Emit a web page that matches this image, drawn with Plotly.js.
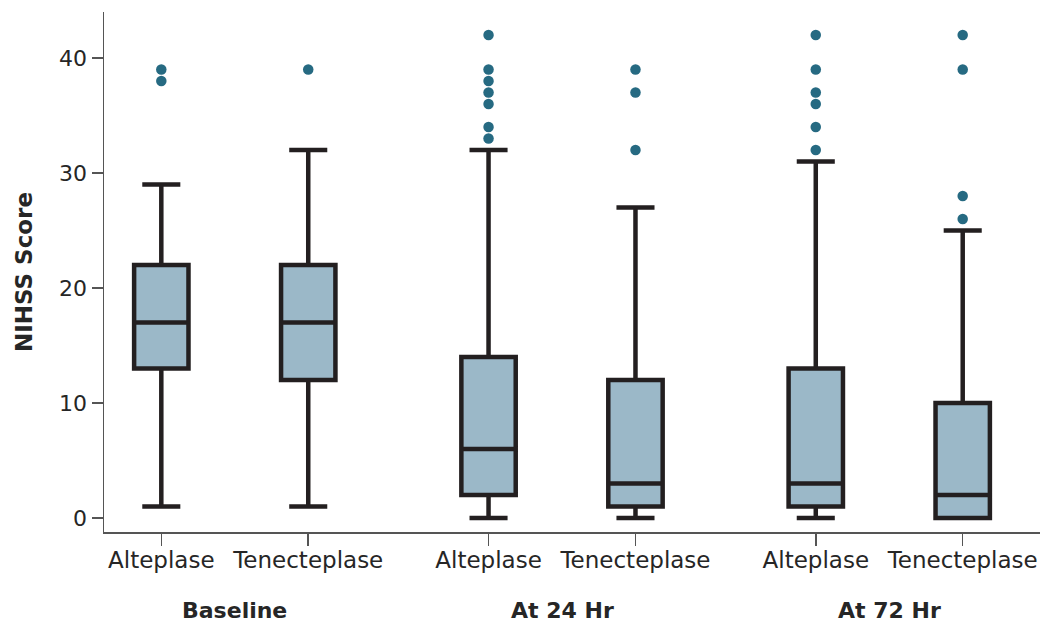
<!DOCTYPE html>
<html>
<head>
<meta charset="utf-8">
<script src="https://cdn.plot.ly/plotly-3.0.1.min.js"></script>
<style>html,body{margin:0;padding:0;background:#fff;}#chart{width:1045px;height:626px;}</style>
</head>
<body>
<div id="chart"></div>
<script>
// ---- data ----
var groups = ["Baseline", "At 24 Hr", "At 72 Hr"];
var drugs = ["Alteplase", "Tenecteplase"];
var boxGroup = [0, 0, 1, 1, 2, 2];
var boxDrug = [0, 1, 0, 1, 0, 1];
var lowerFence = [1, 1, 0, 0, 0, 0];
var q1 = [13, 12, 2, 1, 1, 0];
var median = [17, 17, 6, 3, 3, 2];
var q3 = [22, 22, 14, 12, 13, 10];
var upperFence = [29, 32, 32, 27, 31, 25];
var outliers = [
  [38, 39],
  [39],
  [33, 34, 36, 37, 38, 39, 42],
  [32, 37, 39],
  [32, 34, 36, 37, 39, 42],
  [26, 28, 39, 42]
];
var yTicks = [0, 10, 20, 30, 40];

// ---- layout helpers ----
var groupStep = 2.227;
var pos = boxGroup.map(function (g, i) { return g * groupStep + boxDrug[i]; });
var tickText = boxDrug.map(function (d) { return drugs[d]; });

var ox = [], oy = [];
outliers.forEach(function (arr, i) {
  arr.forEach(function (v) { ox.push(pos[i]); oy.push(v); });
});

var lineCol = "#231f20";
var textCol = "#262626";
var fontFam = "'DejaVu Sans', sans-serif";

var traces = [
  {
    type: "box",
    x: pos,
    q1: q1,
    median: median,
    q3: q3,
    lowerfence: lowerFence,
    upperfence: upperFence,
    width: 0.37,
    whiskerwidth: 0.7,
    boxpoints: false,
    fillcolor: "#9bb8c8",
    line: { color: lineCol, width: 4.5 },
    hoverinfo: "skip",
    showlegend: false
  },
  {
    type: "scatter",
    mode: "markers",
    x: ox,
    y: oy,
    marker: { color: "#266a82", size: 10.5 },
    hoverinfo: "skip",
    showlegend: false
  }
];

var annotations = groups.map(function (g, gi) {
  return {
    text: "<b>" + g + "</b>",
    x: gi * groupStep + 0.5,
    xref: "x",
    y: -0.15,
    yref: "paper",
    yanchor: "middle",
    xanchor: "center",
    showarrow: false,
    font: { family: fontFam, size: 22, color: textCol }
  };
});

var layout = {
  width: 1045,
  height: 626,
  margin: { l: 104, r: 5, t: 12, b: 94 },
  paper_bgcolor: "#ffffff",
  plot_bgcolor: "#ffffff",
  showlegend: false,
  xaxis: {
    type: "linear",
    range: [-0.39, 5.98],
    tickmode: "array",
    tickvals: pos,
    ticktext: tickText,
    tickangle: 0,
    ticks: "outside",
    ticklen: 12,
    tickwidth: 1.5,
    tickcolor: "#555",
    ticklabelstandoff: -5,
    showline: true,
    linecolor: "#555",
    linewidth: 1.5,
    showgrid: false,
    zeroline: false,
    fixedrange: true,
    tickfont: { family: fontFam, size: 23, color: textCol }
  },
  yaxis: {
    range: [-1.22, 44],
    tickmode: "array",
    tickvals: yTicks,
    ticks: "outside",
    ticklen: 11,
    tickwidth: 1.5,
    tickcolor: "#555",
    showline: true,
    linecolor: "#555",
    linewidth: 1.5,
    showgrid: false,
    zeroline: false,
    fixedrange: true,
    tickfont: { family: fontFam, size: 22, color: textCol },
    title: { text: "<b>NIHSS Score</b>", standoff: 20, font: { family: fontFam, size: 23, color: textCol } }
  },
  annotations: annotations
};

Plotly.newPlot("chart", traces, layout, { displayModeBar: false, staticPlot: true });
</script>
</body>
</html>
